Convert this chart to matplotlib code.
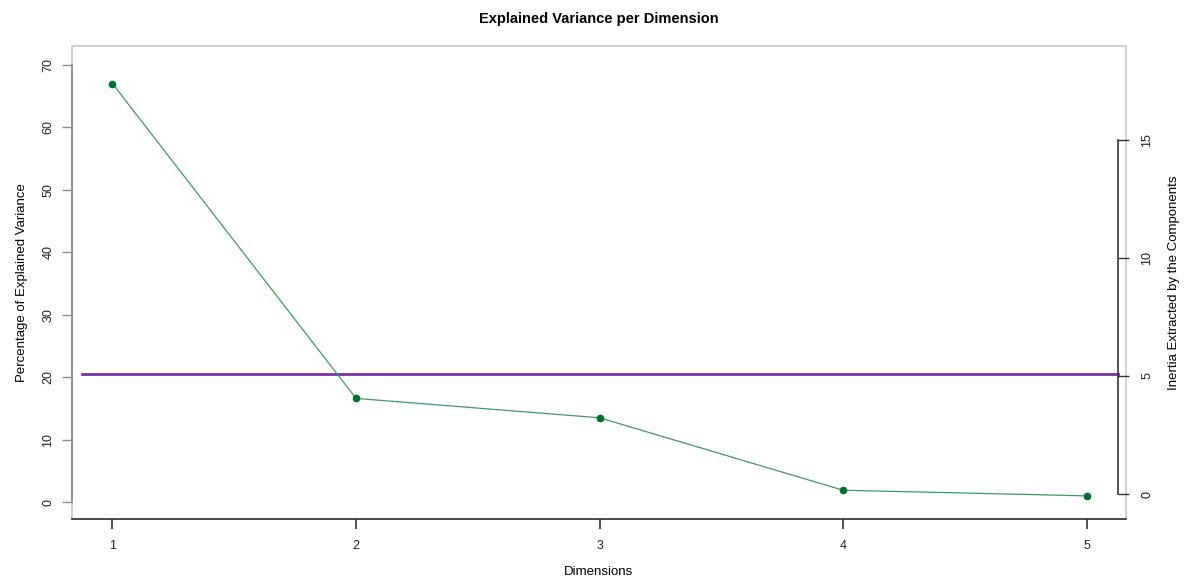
import numpy as np
import matplotlib
matplotlib.use("Agg")
from matplotlib import pyplot as plt
from matplotlib.patches import Rectangle

plt.rcParams['font.family'] = ['Liberation Sans', 'DejaVu Sans']

# data
dims = [1, 2, 3, 4, 5]
explained = [67.0, 16.6, 13.5, 1.9, 1.0]
threshold = 20.5
left_ticks = [0, 10, 20, 30, 40, 50, 60, 70]
right_ticks = [0, 5, 10, 15]

green_line = '#3f9a62'
green_pt = '#00702e'
purple = '#7b2fa8'

fig = plt.figure(figsize=(11.89, 5.80), dpi=100)
ax = fig.add_axes([0.0608, 0.105, 0.8862, 0.815])

ax.plot(dims, explained, color=green_line, lw=0.9, zorder=3)
ax.plot(dims, explained, 'o', color=green_pt, ms=4.5, zorder=4)
ax.axhline(threshold, xmin=0.0092, xmax=0.992, color=purple, lw=2.0, zorder=2)

ax.set_xlim(0.835, 5.161)
ax.set_ylim(-2.72, 72.96)
ax.set_xticks(dims)
ax.set_yticks(left_ticks)

# frame in light grey, axes lines on top
ax.add_patch(Rectangle((0, 0), 1, 1, transform=ax.transAxes, fill=False,
                       ec='#c8c8c8', lw=1.2, zorder=1, clip_on=False))
for s in ['top', 'right']:
    ax.spines[s].set_visible(False)
ax.spines['left'].set_bounds(0, 70)
ax.spines['left'].set_color('#8a8a8a')
ax.spines['left'].set_linewidth(1.2)
ax.spines['bottom'].set_color('#333333')
ax.spines['bottom'].set_linewidth(1.2)

ax.tick_params(axis='y', direction='out', length=7, width=1, color='#8a8a8a',
               labelsize=9, labelcolor='#222222', pad=6)
for lab in ax.get_yticklabels():
    lab.set_rotation(90)
    lab.set_va('center')
ax.tick_params(axis='x', direction='out', length=7, width=1.2, color='#333333',
               labelsize=9, labelcolor='#222222', pad=8)

fig.text(0.503, 0.014, 'Dimensions', fontsize=9.5, ha='center', va='center')
ax.set_ylabel('Percentage of Explained Variance', fontsize=9.5, labelpad=10)
ax.set_title('Explained Variance per Dimension', fontsize=10.5, fontweight='bold', pad=17)

# right axis for the inertia
ax2 = ax.twinx()
ax2.set_ylim(-1.06, 18.96)
ax2.set_yticks(right_ticks)
for s in ['top', 'left', 'bottom']:
    ax2.spines[s].set_visible(False)
ax2.spines['right'].set_position(('axes', 0.992))
ax2.spines['right'].set_bounds(0, 15)
ax2.spines['right'].set_color('#333333')
ax2.spines['right'].set_linewidth(1.2)
ax2.tick_params(axis='y', direction='out', length=8, width=1, color='#333333',
                labelsize=9, labelcolor='#222222', pad=9)
for lab in ax2.get_yticklabels():
    lab.set_rotation(90)
    lab.set_va('center')
ax2.set_ylabel('Inertia Extracted by the Components', fontsize=9.5, labelpad=11)

fig.savefig('out.png', dpi=100)
